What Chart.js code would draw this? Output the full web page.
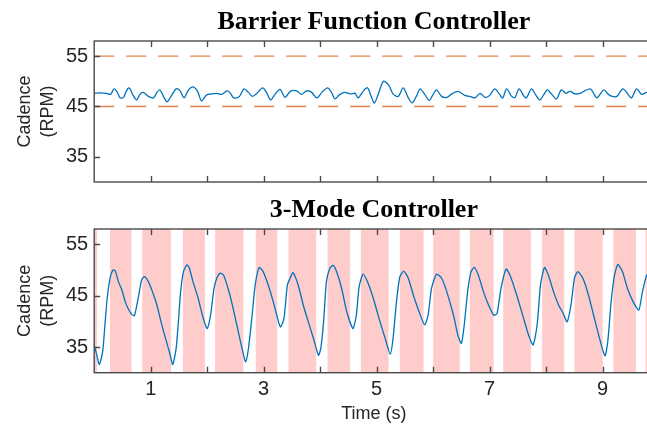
<!DOCTYPE html>
<html>
<head>
<meta charset="utf-8">
<script src="https://cdn.jsdelivr.net/npm/chart.js@4.4.0/dist/chart.umd.min.js"></script>
<style>
    html, body { margin: 0; padding: 0; background: #fff; overflow: hidden; }
    .panel { position: absolute; left: 0; }
    #topPanel { top: 0; }
    #bottomPanel { top: 188px; }
</style>
</head>
<body>
<div class="panel" id="topPanel"><canvas id="barrierChart" width="660" height="200"></canvas></div>
<div class="panel" id="bottomPanel"><canvas id="modeChart" width="660" height="236"></canvas></div>
<script>
// Barrier function controller: time (s) and cadence (RPM)
const topTime = [0.00, 0.10, 0.22, 0.29, 0.35, 0.40, 0.46, 0.52, 0.57, 0.62, 0.69, 0.75, 0.81, 0.87, 0.96,
    1.05, 1.11, 1.16, 1.24, 1.29, 1.37, 1.45, 1.52, 1.59, 1.67, 1.75, 1.83, 1.90, 1.99,
    2.08, 2.17, 2.26, 2.35, 2.40, 2.47, 2.57, 2.65, 2.73, 2.80, 2.88, 2.98,
    3.05, 3.12, 3.20, 3.29, 3.38, 3.47, 3.58, 3.67, 3.76, 3.85, 3.94,
    4.03, 4.13, 4.20, 4.26, 4.35, 4.44, 4.53, 4.62, 4.67, 4.78, 4.84, 4.91, 4.96,
    5.03, 5.12, 5.21, 5.29, 5.38, 5.47, 5.56, 5.63, 5.71, 5.77, 5.85, 5.93,
    6.00, 6.06, 6.15, 6.24, 6.33, 6.44, 6.56, 6.65, 6.74, 6.83, 6.92,
    7.00, 7.09, 7.17, 7.23, 7.30, 7.39, 7.45, 7.52, 7.61, 7.65, 7.74, 7.82, 7.89,
    8.02, 8.10, 8.18, 8.27, 8.35, 8.42, 8.51, 8.60, 8.68, 8.78, 8.83, 8.90,
    9.02, 9.10, 9.17, 9.25, 9.36, 9.45, 9.51, 9.60, 9.69, 9.78, 9.88];
const topCadence = [47.6, 47.7, 47.6, 47.4, 48.5, 48.0, 46.7, 46.8, 48.1, 48.7, 47.2, 46.3, 47.4, 47.8, 47.0,
    46.7, 47.8, 48.3, 46.7, 45.9, 47.2, 48.5, 48.1, 46.7, 48.3, 48.9, 48.0, 46.1, 47.3,
    47.5, 47.6, 47.4, 48.1, 47.8, 46.7, 47.0, 48.5, 47.8, 47.0, 47.6, 48.7,
    47.8, 46.3, 47.4, 48.4, 46.8, 48.0, 48.1, 47.4, 48.1, 47.8, 46.7,
    47.8, 48.7, 47.8, 46.5, 47.4, 47.8, 47.5, 47.6, 46.7, 48.3, 48.7, 46.8, 45.7,
    47.5, 50.0, 49.3, 47.5, 47.0, 48.7, 46.7, 45.7, 47.2, 48.5, 47.4, 46.2,
    47.4, 48.3, 47.0, 46.8, 47.5, 48.0, 47.2, 47.0, 46.7, 47.6, 46.8,
    47.2, 48.5, 47.5, 46.7, 48.5, 47.0, 46.8, 48.5, 47.0, 46.7, 48.5, 47.2, 46.3,
    48.3, 47.4, 46.5, 48.3, 47.6, 48.0, 47.5, 47.6, 48.1, 48.5, 47.8, 46.7,
    48.3, 47.4, 47.0, 47.0, 48.5, 47.4, 46.7, 48.5, 47.4, 47.8, 47.6];
const upperLimit = 55;
const lowerLimit = 45;

// 3-mode controller: time (s) and cadence (RPM)
const modeTime = [0.00, 0.04, 0.09, 0.15, 0.19, 0.23, 0.28, 0.33, 0.37, 0.43, 0.49, 0.55, 0.60, 0.66, 0.71, 0.75, 0.80, 0.84, 0.89, 0.96,
    1.02, 1.11, 1.19, 1.28, 1.34, 1.39, 1.45, 1.49, 1.53, 1.58, 1.64, 1.68, 1.75, 1.84, 1.93,
    2.00, 2.06, 2.12, 2.17, 2.23, 2.29, 2.37, 2.46, 2.55, 2.63, 2.68, 2.73, 2.79, 2.85, 2.92, 2.99,
    3.08, 3.17, 3.26, 3.30, 3.36, 3.42, 3.48, 3.52, 3.61, 3.70, 3.79, 3.88, 3.97,
    4.01, 4.06, 4.11, 4.17, 4.23, 4.29, 4.38, 4.47, 4.58, 4.64, 4.69, 4.76, 4.85, 4.94,
    5.06, 5.15, 5.24, 5.29, 5.35, 5.41, 5.48, 5.56, 5.65, 5.76, 5.85, 5.91, 5.97,
    6.06, 6.15, 6.24, 6.36, 6.44, 6.50, 6.55, 6.61, 6.67, 6.73, 6.80, 6.89, 6.98,
    7.07, 7.13, 7.20, 7.29, 7.36, 7.48, 7.60, 7.69, 7.77, 7.84, 7.90, 7.97,
    8.04, 8.13, 8.22, 8.30, 8.37, 8.44, 8.50, 8.56, 8.65, 8.75, 8.84, 8.93,
    9.04, 9.09, 9.15, 9.21, 9.27, 9.35, 9.44, 9.54, 9.64, 9.70, 9.77, 9.85];
const modeCadence = [35.4, 33.7, 31.6, 34.1, 39.3, 44.5, 48.4, 50.0, 49.9, 47.7, 46.1, 43.8, 42.5, 41.4, 41.1, 42.9, 45.8, 48.1, 48.7, 47.7,
    46.1, 43.2, 39.6, 36.0, 33.7, 31.6, 34.7, 39.9, 45.8, 49.7, 51.0, 50.5, 47.7, 44.5, 40.6,
    38.6, 41.2, 46.4, 48.4, 49.4, 49.0, 46.4, 42.5, 38.0, 34.1, 32.1, 34.7, 40.6, 47.1, 50.5, 49.7,
    47.1, 43.8, 40.0, 38.9, 40.6, 47.1, 48.7, 49.5, 47.1, 43.2, 39.9, 36.7, 33.4,
    34.7, 39.9, 47.7, 50.3, 50.9, 49.7, 46.4, 41.9, 38.6, 41.2, 46.8, 49.2, 47.4, 44.5,
    39.9, 36.7, 33.6, 36.7, 43.8, 48.7, 49.8, 48.4, 45.1, 41.6, 39.3, 41.2, 46.4,
    49.2, 48.4, 45.8, 41.2, 37.2, 35.7, 39.3, 45.8, 49.7, 50.5, 49.0, 45.8, 43.2,
    41.2, 41.5, 46.4, 50.2, 49.0, 45.1, 40.6, 37.3, 35.4, 39.3, 47.1, 50.5,
    49.0, 45.8, 43.2, 41.6, 39.9, 43.2, 48.4, 49.7, 48.4, 45.1, 41.2, 37.3,
    33.3, 36.0, 43.8, 49.0, 51.1, 49.7, 46.4, 43.8, 42.2, 45.5, 48.7, 50.2];

// shaded mode intervals (s)
const bandStart = [0.00, 0.28, 0.85, 1.57, 2.14, 2.86, 3.44, 4.13, 4.72, 5.41, 6.00, 6.65, 7.24, 7.93, 8.50, 9.19, 9.76];
const bandEnd   = [0.05, 0.66, 1.36, 1.96, 2.64, 3.24, 3.93, 4.53, 5.21, 5.83, 6.47, 7.07, 7.73, 8.32, 9.00, 9.59, 9.90];

// axis ticks
const xTickValues = [1, 2, 3, 4, 5, 6, 7, 8, 9];
const xTickLabels = ['1', '', '3', '', '5', '', '7', '', '9'];
const yTickValues = [35, 45, 55];

const X_MIN = 0, X_MAX = 9.9, Y_MIN = 30, Y_MAX = 58;
const AXIS_COLOR = '#262626';
const SANS = "'Liberation Sans', Arial, sans-serif";
const SERIF = "'Liberation Serif', 'Times New Roman', serif";

function toPoints(xs, ys) {
    return xs.map((x, i) => ({ x: x, y: ys[i] }));
}

// pink shading behind the 3-mode trace
const bandsPlugin = {
    id: 'modeBands',
    beforeDatasetsDraw(chart) {
        const { ctx, chartArea, scales } = chart;
        ctx.save();
        ctx.fillStyle = 'rgba(255, 153, 153, 0.5)';
        for (let i = 0; i < bandStart.length; i++) {
            const x0 = Math.max(scales.x.getPixelForValue(bandStart[i]), chartArea.left);
            const x1 = Math.min(scales.x.getPixelForValue(bandEnd[i]), chartArea.right);
            ctx.fillRect(x0, chartArea.top, x1 - x0, chartArea.bottom - chartArea.top);
        }
        ctx.restore();
    }
};

// MATLAB style box with inward ticks
const boxPlugin = {
    id: 'matlabBox',
    afterDatasetsDraw(chart) {
        const { ctx, chartArea, scales } = chart;
        const len = 6;
        ctx.save();
        ctx.strokeStyle = '#4a4a4a';
        ctx.lineWidth = 1.4;
        ctx.strokeRect(chartArea.left, chartArea.top, chartArea.right - chartArea.left, chartArea.bottom - chartArea.top);
        ctx.beginPath();
        xTickValues.forEach(v => {
            const px = Math.round(scales.x.getPixelForValue(v)) + 0.5;
            ctx.moveTo(px, chartArea.bottom);
            ctx.lineTo(px, chartArea.bottom - len);
            ctx.moveTo(px, chartArea.top);
            ctx.lineTo(px, chartArea.top + len);
        });
        yTickValues.forEach(v => {
            const py = Math.round(scales.y.getPixelForValue(v)) + 0.5;
            ctx.moveTo(chartArea.left, py);
            ctx.lineTo(chartArea.left + len, py);
            ctx.moveTo(chartArea.right, py);
            ctx.lineTo(chartArea.right - len, py);
        });
        ctx.stroke();
        ctx.restore();
    }
};

function makeOptions(titleText, showXLabels, xAxisHeight) {
    return {
        responsive: false,
        animation: false,
        layout: { padding: { left: 0, right: 6.5, top: 0, bottom: 0 } },
        plugins: {
            legend: { display: false },
            tooltip: { enabled: false },
            title: {
                display: true,
                fullSize: false,
                text: titleText,
                color: '#000',
                font: { family: SERIF, size: 26, weight: 'bold', lineHeight: 1.2 },
                padding: { top: 6.4, bottom: 3.4 }
            }
        },
        scales: {
            x: {
                type: 'linear',
                min: X_MIN,
                max: X_MAX,
                afterBuildTicks: s => { s.ticks = xTickValues.map(v => ({ value: v })); },
                afterFit: s => { s.height = xAxisHeight; },
                grid: { display: false, drawTicks: false },
                border: { display: false },
                ticks: {
                    display: showXLabels,
                    padding: 5,
                    color: AXIS_COLOR,
                    font: { family: SANS, size: 20 },
                    maxRotation: 0,
                    callback: (v, i) => xTickLabels[i]
                },
                title: {
                    display: showXLabels,
                    text: 'Time (s)',
                    color: AXIS_COLOR,
                    font: { family: SANS, size: 18, lineHeight: 1.1 },
                    padding: { top: 0, bottom: 0 }
                }
            },
            y: {
                min: Y_MIN,
                max: Y_MAX,
                afterBuildTicks: s => { s.ticks = yTickValues.map(v => ({ value: v })); },
                afterFit: s => { s.width = 94.2; },
                grid: { display: false, drawTicks: false },
                border: { display: false },
                ticks: {
                    padding: 6,
                    color: AXIS_COLOR,
                    font: { family: SANS, size: 20 }
                },
                title: {
                    display: true,
                    text: ['Cadence', '(RPM)'],
                    color: AXIS_COLOR,
                    font: { family: SANS, size: 18, lineHeight: 1.25 },
                    padding: { top: 14, bottom: 0 }
                }
            }
        }
    };
}

function initializeBarrierChart() {
    const ctx = document.getElementById('barrierChart');
    new Chart(ctx, {
        type: 'line',
        data: {
            datasets: [{
                data: toPoints(topTime, topCadence),
                borderColor: '#0072BD',
                borderWidth: 1.3,
                pointRadius: 0,
                tension: 0.3
            }, {
                data: toPoints([X_MIN, X_MAX], [upperLimit, upperLimit]),
                borderColor: '#E8844F',
                borderWidth: 1.4,
                borderDash: [20, 12],
                pointRadius: 0
            }, {
                data: toPoints([X_MIN, X_MAX], [lowerLimit, lowerLimit]),
                borderColor: '#E8844F',
                borderWidth: 1.4,
                borderDash: [20, 12],
                pointRadius: 0
            }]
        },
        options: makeOptions('Barrier Function Controller', false, 15),
        plugins: [boxPlugin]
    });
}

function initializeModeChart() {
    const ctx = document.getElementById('modeChart');
    new Chart(ctx, {
        type: 'line',
        data: {
            datasets: [{
                data: toPoints(modeTime, modeCadence),
                borderColor: '#0072BD',
                borderWidth: 1.3,
                pointRadius: 0,
                tension: 0.2
            }]
        },
        options: makeOptions('3-Mode Controller', true, 51.3),
        plugins: [bandsPlugin, boxPlugin]
    });
}

initializeBarrierChart();
initializeModeChart();
</script>
</body>
</html>
